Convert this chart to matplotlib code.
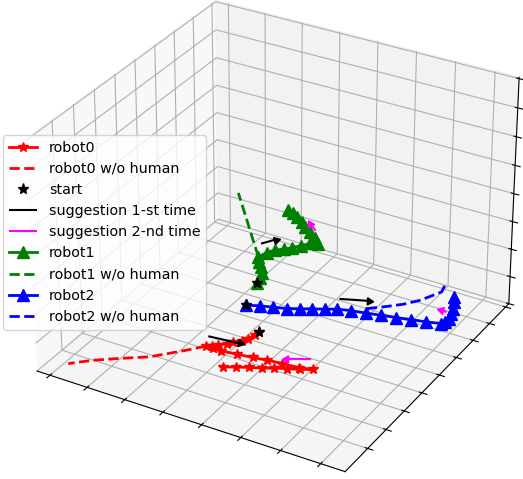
import matplotlib
matplotlib.use('Agg')
import matplotlib.pyplot as plt

robot0_x = [3.42,3.41,3.35,3.27,3.13,3.03,2.90,2.79,2.68,2.86,3.07,3.46,3.84,4.19,4.55,4.97,5.27,5.01,4.75,4.48,4.24,3.98,3.72,3.47]
robot0_y = [2.94,2.74,2.50,2.31,2.15,1.99,1.81,1.69,1.60,1.64,1.60,1.67,1.74,1.82,1.88,1.92,2.04,1.86,1.73,1.57,1.41,1.27,1.11,0.95]
robot0_free_x = [2.68,2.39,1.82,1.21,0.79,0.38]
robot0_free_y = [1.60,1.17,0.40,-0.12,-0.50,-0.97]

robot1_x = [3.35,3.30,3.21,3.06,2.91,2.78,2.85,2.96,3.11,3.24,3.38,3.51,3.68,3.48,3.25,3.03,2.85,2.63,2.48,2.29]
robot1_y = [2.97,3.24,3.51,3.78,3.98,4.20,4.51,4.74,4.90,5.07,5.29,5.53,5.64,5.88,6.08,6.25,6.45,6.62,6.74,6.86]
robot1_free_x = [2.78,2.14,1.49,0.85]
robot1_free_y = [4.20,5.12,6.06,6.98]

robot2_x = [2.57,2.86,3.16,3.47,3.73,3.98,4.24,4.49,4.79,5.15,5.49,5.84,6.18,6.53,6.86,6.91,6.91,6.85,6.79,6.69,6.59]
robot2_y = [3.95,4.11,4.23,4.36,4.52,4.69,4.85,5.02,5.14,5.23,5.34,5.44,5.55,5.65,5.78,5.91,6.11,6.37,6.63,6.96,7.20]
robot2_free_x = [5.07,5.37,5.71,5.97,6.13,6.23,6.16]
robot2_free_y = [5.45,5.76,6.15,6.57,6.99,7.26,7.62]

z_low = 0.44
z_high = 2.14

start_x = [3.42, 3.35, 2.57]
start_y = [2.94, 2.97, 3.95]
start_z = [0.44, 2.14, 0.44]

# suggestions: tail position and direction
first_x = [2.51, 2.53, 4.31]
first_y = [2.06, 4.85, 5.52]
first_z = [0.44, 2.14, 0.44]
first_u = [0.78, 0.20, 0.63]
first_v = [0.11, 0.39, 0.31]
first_w = [0, 0, 0]

second_x = [5.02, 3.34, 6.74]
second_y = [2.45, 6.21, 6.39]
second_z = [0.44, 2.14, 0.44]
second_u = [-0.50, -0.28, -0.15]
second_v = [-0.32, 0.27, 0.00]
second_w = [0, 0, 0]

# screen rotation of the arrow heads, degrees
first_head = [-103, -75, -94]
second_head = [90, 30, 75]


def arrows(xs, ys, zs, us, vs, ws, heads, color, label):
    # quiver barbs come out too thin, so the heads are drawn as markers
    ax.quiver(xs, ys, zs, us, vs, ws, color=color, lw=1.5, arrow_length_ratio=0, label=label, zorder=5)
    for i in range(len(xs)):
        ax.plot([xs[i] + us[i]], [ys[i] + vs[i]], [zs[i] + ws[i]], color=color, ls='none',
                marker=(3, 0, heads[i]), ms=6, zorder=5)


fig = plt.figure(figsize=(5.23, 4.79), dpi=100)
ax = fig.add_axes([-0.0565, -0.0569, 1.145, 1.145], projection='3d')
ax.computed_zorder = False

ax.plot(robot0_x, robot0_y, [z_low] * len(robot0_x), 'r-*', lw=2, ms=7, label='robot0', zorder=3)
ax.plot(robot0_free_x, robot0_free_y, [z_low] * len(robot0_free_x), 'r--', lw=2, label='robot0 w/o human', zorder=3)
ax.plot(start_x, start_y, start_z, 'k*', ms=8, label='start', zorder=6)
arrows(first_x, first_y, first_z, first_u, first_v, first_w, first_head, 'k', 'suggestion 1-st time')
arrows(second_x, second_y, second_z, second_u, second_v, second_w, second_head, 'magenta', 'suggestion 2-nd time')
ax.plot(robot1_x, robot1_y, [z_high] * len(robot1_x), 'g-^', lw=2, ms=8.5, label='robot1', zorder=3)
ax.plot(robot1_free_x, robot1_free_y, [z_high] * len(robot1_free_x), 'g--', lw=2, label='robot1 w/o human', zorder=3)
ax.plot(robot2_x, robot2_y, [z_low] * len(robot2_x), 'b-^', lw=2, ms=8.5, label='robot2', zorder=3)
ax.plot(robot2_free_x, robot2_free_y, [z_low] * len(robot2_free_x), 'b--', lw=2, label='robot2 w/o human', zorder=3)

ax.set_xlim(-0.35, 7.6)
ax.set_ylim(-1.2, 8.2)
ax.set_zlim(0, 8.05)
ax.set_xticks(range(8))
ax.set_yticks(range(9))
ax.set_zticks(range(9))
ax.set_xticklabels([])
ax.set_yticklabels([])
ax.set_zticklabels([])

ax.legend(loc='upper left', bbox_to_anchor=(3 / 523, 1 - 135 / 479), bbox_transform=fig.transFigure,
          borderaxespad=0, fontsize=10.3)
fig.savefig('out.png', dpi=100)
